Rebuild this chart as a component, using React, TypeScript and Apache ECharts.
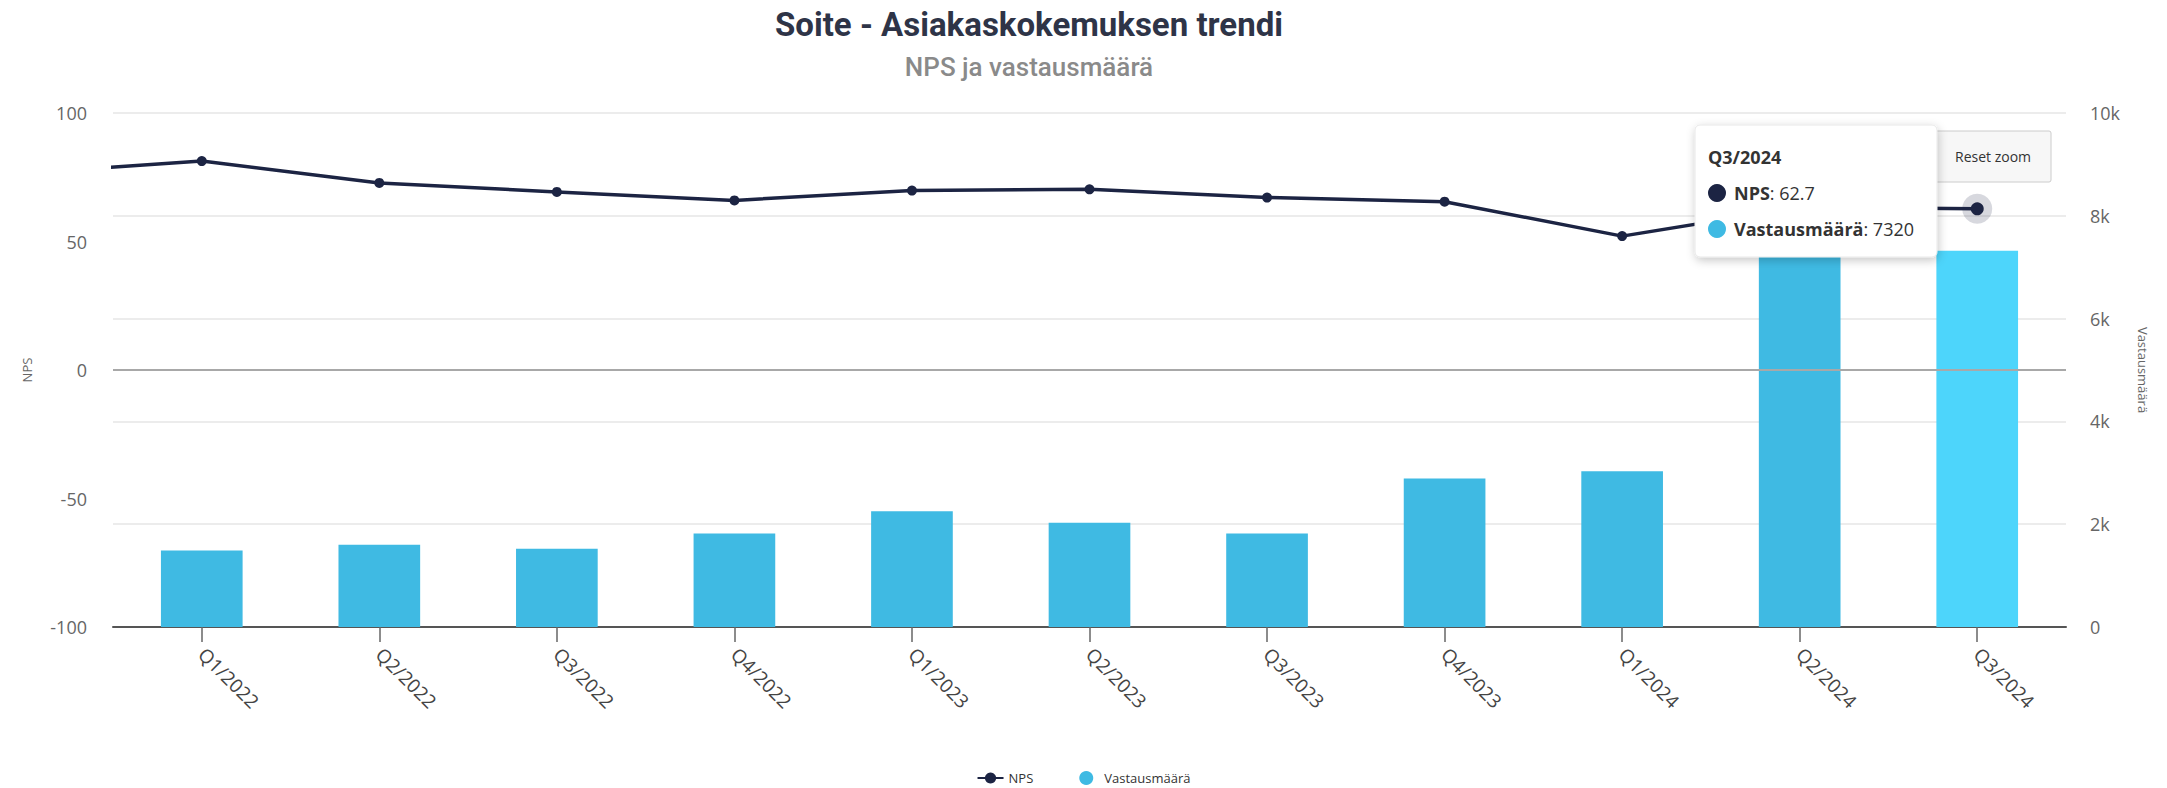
import React, { useEffect, useRef } from "react";
import * as echarts from "echarts";

// Q4/2021 lies just outside the zoomed view (only the line segment entering from the left is visible)
const categories = [
  "Q4/2021",
  "Q1/2022", "Q2/2022", "Q3/2022", "Q4/2022",
  "Q1/2023", "Q2/2023", "Q3/2023", "Q4/2023",
  "Q1/2024", "Q2/2024", "Q3/2024",
];
const npsValues = [76.6, 81.3, 72.8, 69.3, 66.0, 69.8, 70.3, 67.1, 65.5, 52.1, 63.3, 62.7];
const responseValues = [null, 1490, 1600, 1520, 1820, 2250, 2030, 1820, 2890, 3030, 7500, 7320];
const npsTicks = { min: -100, max: 100, interval: 50 };
const responseTicks = { min: 0, max: 10000, interval: 2000 };

const TITLE = "Soite - Asiakaskokemuksen trendi";
const SUBTITLE = "NPS ja vastausmäärä";
const NPS_NAME = "NPS";
const RESP_NAME = "Vastausmäärä";

const LINE_COLOR = "#1c2443";
const BAR_COLOR = "#3fbae3";
const BAR_HOVER = "#4dd5fb";
const FONT = "'Open Sans', 'Noto Sans', sans-serif";

export default function App() {
  const ref = useRef<HTMLDivElement>(null);

  useEffect(() => {
    if (!ref.current) return;
    const chart = echarts.init(ref.current, undefined, { renderer: "svg" });
    const last = categories.length - 1;
    const hoverCat = categories[last];

    const barData = responseValues.map((v, i) =>
      i === last ? { value: v, itemStyle: { color: BAR_HOVER } } : v
    );
    const lineData = npsValues.map((v, i) =>
      i === last ? { value: v, symbolSize: 13 } : v
    );

    const tipX = 1695;
    const tipY = 125;
    const tipW = 242;
    const tipH = 132;

    chart.setOption({
      animation: false,
      textStyle: { fontFamily: FONT },
      grid: { left: 113, right: 101, top: 113, bottom: 161, containLabel: false },
      dataZoom: [
        { type: "inside", xAxisIndex: 0, startValue: 1, endValue: last, filterMode: "none", disabled: true },
      ],
      legend: {
        top: 766,
        left: "center",
        itemWidth: 26,
        itemHeight: 14,
        itemGap: 46,
        textStyle: { color: "#333", fontSize: 13, fontFamily: FONT },
        data: [{ name: NPS_NAME }, { name: RESP_NAME, icon: "circle" }],
      },
      xAxis: {
        type: "category",
        data: categories,
        boundaryGap: true,
        axisLine: { show: true, onZero: false, lineStyle: { color: "#555", width: 2 } },
        axisTick: { show: true, alignWithLabel: true, length: 15, lineStyle: { color: "#666", width: 1.5 } },
        axisLabel: { rotate: -45, margin: 24, color: "#444", fontSize: 19, fontFamily: FONT },
        splitLine: { show: false },
      },
      yAxis: [
        {
          type: "value",
          ...npsTicks,
          position: "left",
          name: NPS_NAME,
          nameLocation: "middle",
          nameRotate: 90,
          nameGap: 80,
          nameTextStyle: { color: "#666", fontSize: 13, fontFamily: FONT },
          axisLine: { show: false },
          axisTick: { show: false },
          splitLine: { show: false },
          axisLabel: { margin: 26, color: "#666", fontSize: 18, fontFamily: FONT },
        },
        {
          type: "value",
          ...responseTicks,
          position: "right",
          name: RESP_NAME,
          nameLocation: "middle",
          nameRotate: -90,
          nameGap: 70,
          nameTextStyle: { color: "#666", fontSize: 13, fontFamily: FONT },
          axisLine: { show: false },
          axisTick: { show: false },
          splitLine: { show: true, lineStyle: { color: "#e6e6e6", width: 1.5 } },
          axisLabel: {
            margin: 24,
            color: "#666",
            fontSize: 18,
            fontFamily: FONT,
            formatter: (v: number) => (v === 0 ? "0" : `${v / 1000}k`),
          },
        },
      ],
      series: [
        {
          name: RESP_NAME,
          type: "bar",
          yAxisIndex: 1,
          data: barData,
          barWidth: "46%",
          itemStyle: { color: BAR_COLOR },
          z: 1,
        },
        {
          name: "halo",
          type: "scatter",
          yAxisIndex: 0,
          data: [[hoverCat, npsValues[last]]],
          symbolSize: 30,
          itemStyle: { color: "rgba(28,36,67,0.22)" },
          silent: true,
          z: 2,
        },
        {
          name: NPS_NAME,
          type: "line",
          yAxisIndex: 0,
          data: lineData,
          symbol: "circle",
          symbolSize: 10,
          showAllSymbol: true,
          lineStyle: { color: LINE_COLOR, width: 3.5 },
          itemStyle: { color: LINE_COLOR },
          z: 3,
          markLine: {
            silent: true,
            symbol: "none",
            label: { show: false },
            lineStyle: { color: "#a8a8a8", width: 2, type: "solid" },
            data: [{ yAxis: 0 }],
          },
        },
      ],
      graphic: [
        {
          type: "text",
          style: {
            text: TITLE,
            x: 1029,
            y: 24,
            align: "center",
            verticalAlign: "middle",
            fill: "#2e3447",
            font: "bold 33px Roboto, sans-serif",
          },
        },
        {
          type: "text",
          style: {
            text: SUBTITLE,
            x: 1029,
            y: 67,
            align: "center",
            verticalAlign: "middle",
            fill: "#8a8a8a",
            font: "500 26px Roboto, sans-serif",
          },
        },
        // Reset zoom button
        {
          type: "rect",
          shape: { x: 1925, y: 131, width: 126, height: 51, r: 2 },
          style: { fill: "#f7f7f7", stroke: "#cccccc", lineWidth: 1 },
          z: 10,
        },
        {
          type: "text",
          style: {
            text: "Reset zoom",
            x: 1993,
            y: 156,
            align: "center",
            verticalAlign: "middle",
            fill: "#333",
            font: `14px ${FONT}`,
          },
          z: 11,
        },
        // tooltip
        {
          type: "rect",
          shape: { x: tipX, y: tipY, width: tipW, height: tipH, r: 5 },
          style: {
            fill: "#ffffff",
            stroke: "#e8e8e8",
            lineWidth: 1,
            shadowBlur: 10,
            shadowOffsetX: 1,
            shadowOffsetY: 3,
            shadowColor: "rgba(0,0,0,0.22)",
          },
          z: 20,
        },
        {
          type: "text",
          style: {
            text: hoverCat,
            x: tipX + 13,
            y: tipY + 32,
            verticalAlign: "middle",
            fill: "#333",
            font: `bold 18px ${FONT}`,
          },
          z: 21,
        },
        {
          type: "circle",
          shape: { cx: tipX + 22, cy: tipY + 68, r: 9 },
          style: { fill: LINE_COLOR },
          z: 21,
        },
        {
          type: "text",
          style: {
            text: `{b|${NPS_NAME}}{n|: ${npsValues[last]}}`,
            x: tipX + 39,
            y: tipY + 68,
            verticalAlign: "middle",
            rich: {
              b: { fill: "#333", font: `bold 18px ${FONT}` },
              n: { fill: "#333", font: `18px ${FONT}` },
            },
          },
          z: 21,
        },
        {
          type: "circle",
          shape: { cx: tipX + 22, cy: tipY + 104, r: 9 },
          style: { fill: BAR_COLOR },
          z: 21,
        },
        {
          type: "text",
          style: {
            text: `{b|${RESP_NAME}}{n|: ${responseValues[last]}}`,
            x: tipX + 39,
            y: tipY + 104,
            verticalAlign: "middle",
            rich: {
              b: { fill: "#333", font: `bold 18px ${FONT}` },
              n: { fill: "#333", font: `18px ${FONT}` },
            },
          },
          z: 21,
        },
      ],
    });

    return () => chart.dispose();
  }, []);

  return (
    <div
      ref={ref}
      style={{ position: "fixed", left: 0, top: 0, width: 2167, height: 788, background: "#fff" }}
    />
  );
}
